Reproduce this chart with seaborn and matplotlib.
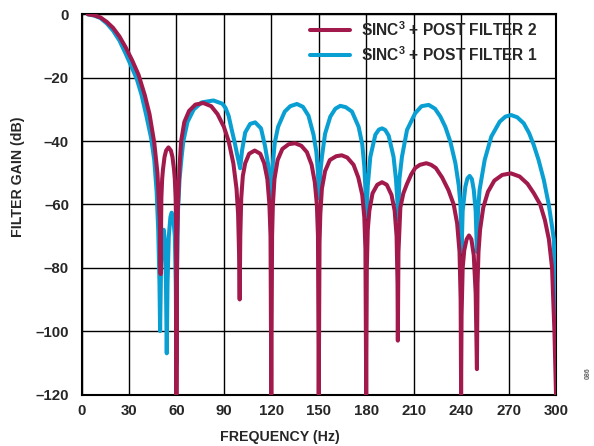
import matplotlib
matplotlib.use("Agg")
import matplotlib.pyplot as plt
import seaborn as sns
import pandas as pd

# ---- data ----
freq_pf2 = [4, 8, 12, 16, 20, 24, 28, 32, 36, 40, 43, 46, 48, 49.5, 50,
            50.5, 51, 51.5, 52.5, 53.5, 55, 56.5, 57.5, 58.5, 59, 59.5, 59.8, 60,
            60.5, 61, 62, 63, 65, 68, 72, 77, 82, 86, 90, 93, 96, 98, 99, 99.6, 100,
            100.4, 101, 102, 103.5, 106, 109.5, 113, 115.5, 117.5, 118.8, 119.5, 120,
            120.5, 121, 122, 124, 127, 131, 135, 139, 142.5, 145.5, 147.5, 148.8, 149.5, 150,
            150.5, 151, 152, 154, 157, 161, 164.5, 168, 172, 175, 177.5, 178.8, 179.5, 180,
            180.4, 181, 182, 184, 187, 190, 193, 196, 198, 199.2, 199.8, 200,
            200.4, 201.6, 203.5, 205.8, 208.5, 211, 214, 218, 221, 224, 228, 232, 235.3, 237.5, 239, 239.7, 240,
            240.3, 241, 242, 243.5, 245, 246.5, 248, 249.2, 250,
            250.4, 251, 252, 254, 257, 261, 266, 271.5, 277, 282, 286, 290, 293, 295.5, 297.5, 299, 300]
gain_pf2 = [0, -0.3, -1.0, -2.4, -4.3, -7, -10.5, -14.5, -19, -25.5, -31.5, -40.5, -50, -65, -82,
            -58, -52, -49, -45, -43, -42, -43, -45, -49, -52, -58, -66, -120,
            -70, -60, -48, -40, -34, -30.5, -28.5, -28, -29, -31.5, -35.5, -40, -47, -55, -63, -75, -90,
            -70, -58, -51, -47, -44, -43, -44, -47, -52, -60, -70, -120,
            -70, -60, -52, -46, -42.5, -41, -40.7, -41.5, -43.5, -47.5, -53, -60, -70, -120,
            -72, -63, -55, -49.5, -46, -44.8, -44.5, -45.2, -47.5, -51.5, -57, -64, -74, -120,
            -80, -68, -62, -56.5, -53.8, -53, -53.8, -57, -62, -70, -85, -103,
            -75, -61, -56.5, -53.5, -50.5, -48.5, -47.5, -47, -47.5, -48.5, -51.5, -55.5, -60, -66, -75, -90, -120,
            -95, -80, -74.5, -71, -69.8, -71, -76, -88, -112,
            -85, -75, -68, -61, -56, -52.5, -50.7, -50.2, -51.2, -53.5, -56.5, -60, -65, -71, -80, -100, -120]

freq_pf1 = [4, 8, 12, 16, 20, 24, 28, 32, 35, 38, 41, 44, 46, 47.5, 48.5, 49.3, 49.7,
            50.3, 51, 52, 52.8, 53.4, 53.9, 54.4, 55.2, 56.2, 57, 58, 59, 59.6, 60,
            60.3, 61, 62, 63.3, 64.4, 67, 71, 76, 83.4, 89, 91, 93, 95, 97, 98.5, 100.3,
            101.5, 103.5, 106.6, 109.8, 113.5, 116, 118.2, 119.5, 120.2,
            121, 122.2, 124.3, 128.5, 132, 136.2, 140, 143.5, 146.7, 148.5, 149.5, 150.1,
            151, 152, 154, 157.3, 160.5, 163.6, 167, 171, 175.2, 177.5, 178.8, 179.6, 180.1,
            181, 182.6, 185.8, 188, 190, 192, 194.2, 197.3, 198.8, 199.6, 200.1,
            201, 202.6, 205.8, 211, 215, 219.5, 223.5, 226.9, 230, 233.2, 236.4, 238.5, 239.6, 240.3,
            241, 242.7, 244, 245.4, 246.8, 248, 249.2, 250,
            250.7, 251.7, 254.9, 259.1, 264.4, 268, 271.6, 275.5, 279.6, 283, 285.9, 289, 292.3, 295.4, 297.5, 298.6, 299.1, 299.6, 300]
gain_pf1 = [0, -0.4, -1.2, -2.9, -5.2, -8.3, -12.5, -17, -20.5, -25.5, -32, -39, -46, -56, -68, -85, -100,
            -80, -71, -68, -72, -85, -107, -85, -70, -64, -62.6, -64, -70, -85, -110,
            -85, -62, -52, -45, -40, -34, -30, -27.8, -27.2, -28.2, -29.5, -32, -36.5, -40.8, -44.5, -48.6,
            -43, -37.3, -34.6, -34.1, -36, -41.5, -48, -53, -58,
            -47, -40.5, -35.5, -30.7, -29, -28.3, -29.2, -32, -38, -43.5, -50, -58,
            -50, -45, -37.7, -32.3, -29.8, -28.9, -29.3, -30.7, -35.5, -41, -48, -56, -64,
            -54, -45, -38, -36.4, -36, -36.5, -38.3, -45, -52, -58, -65,
            -52, -45, -36.5, -31.2, -29, -28.6, -29.8, -32.3, -35.5, -40.2, -47, -54, -60, -75,
            -62, -54.4, -51.8, -51, -52, -55.4, -62, -75,
            -62, -55.4, -46, -38.6, -33.9, -32.3, -31.8, -32.5, -34.4, -37.5, -41.2, -46, -52.3, -60, -67, -71, -80, -90, -98]

label_pf2 = "SINC$^3$ + POST FILTER 2"
label_pf1 = "SINC$^3$ + POST FILTER 1"
x_ticks = [0, 30, 60, 90, 120, 150, 180, 210, 240, 270, 300]
y_ticks = [0, -20, -40, -60, -80, -100, -120]

# ---- style ----
sns.set_style("white")
plt.rcParams["font.family"] = ["Liberation Sans", "DejaVu Sans"]
plt.rcParams["font.weight"] = "bold"
plt.rcParams["mathtext.fontset"] = "custom"
plt.rcParams["mathtext.rm"] = "Liberation Sans:bold"
plt.rcParams["mathtext.it"] = "Liberation Sans:bold"
plt.rcParams["mathtext.bf"] = "Liberation Sans:bold"

maroon = "#A11A4B"
cyan = "#0A9FD3"

fig = plt.figure(figsize=(5.94, 4.46), dpi=100)
ax = fig.add_axes([81.5 / 594, 1 - 394.5 / 446, 474.5 / 594, 380.2 / 446])

df1 = pd.DataFrame({"f": freq_pf1, "g": gain_pf1})
df2 = pd.DataFrame({"f": freq_pf2, "g": gain_pf2})

sns.lineplot(data=df1, x="f", y="g", color=cyan, lw=2.9, ax=ax,
             estimator=None, sort=False, label=label_pf1, zorder=3)
sns.lineplot(data=df2, x="f", y="g", color=maroon, lw=2.9, ax=ax,
             estimator=None, sort=False, label=label_pf2, zorder=4)

ax.set_xlim(0, 300)
ax.set_ylim(-120, 0)
ax.set_xticks(x_ticks)
ax.set_yticks(y_ticks)
ax.set_xticklabels([str(t) for t in x_ticks], fontsize=10.8, fontweight="bold")
ax.set_yticklabels([str(t).replace("-", "\u2013") for t in y_ticks], fontsize=10.8, fontweight="bold")
ax.tick_params(axis="both", length=0)
ax.tick_params(axis="x", pad=7)
ax.tick_params(axis="y", pad=9)

ax.grid(True, color="black", lw=1.0, zorder=1)
ax.set_axisbelow(True)
for s in ax.spines.values():
    s.set_color("black")
    s.set_linewidth(1.5)

ax.set_xlabel("FREQUENCY (Hz)", fontsize=10.2, fontweight="bold")
ax.set_ylabel("FILTER GAIN (dB)", fontsize=10.2, fontweight="bold")
ax.xaxis.set_label_coords(0.419, -0.094)
ax.yaxis.set_label_coords(-0.12, 0.572)

h, l = ax.get_legend_handles_labels()
leg = ax.legend(h[::-1], l[::-1], loc="upper right", bbox_to_anchor=(0.962, 0.985),
                frameon=False, fontsize=11.2, handlelength=2.6, handletextpad=0.7,
                labelspacing=0.4, borderaxespad=0, borderpad=0)
for t in leg.get_texts():
    t.set_fontweight("bold")

fig.text(588 / 594, 1 - 373 / 446, "086", rotation=90, fontsize=5, color="#666666",
         ha="center", va="center")

fig.savefig("out.png", dpi=100)
